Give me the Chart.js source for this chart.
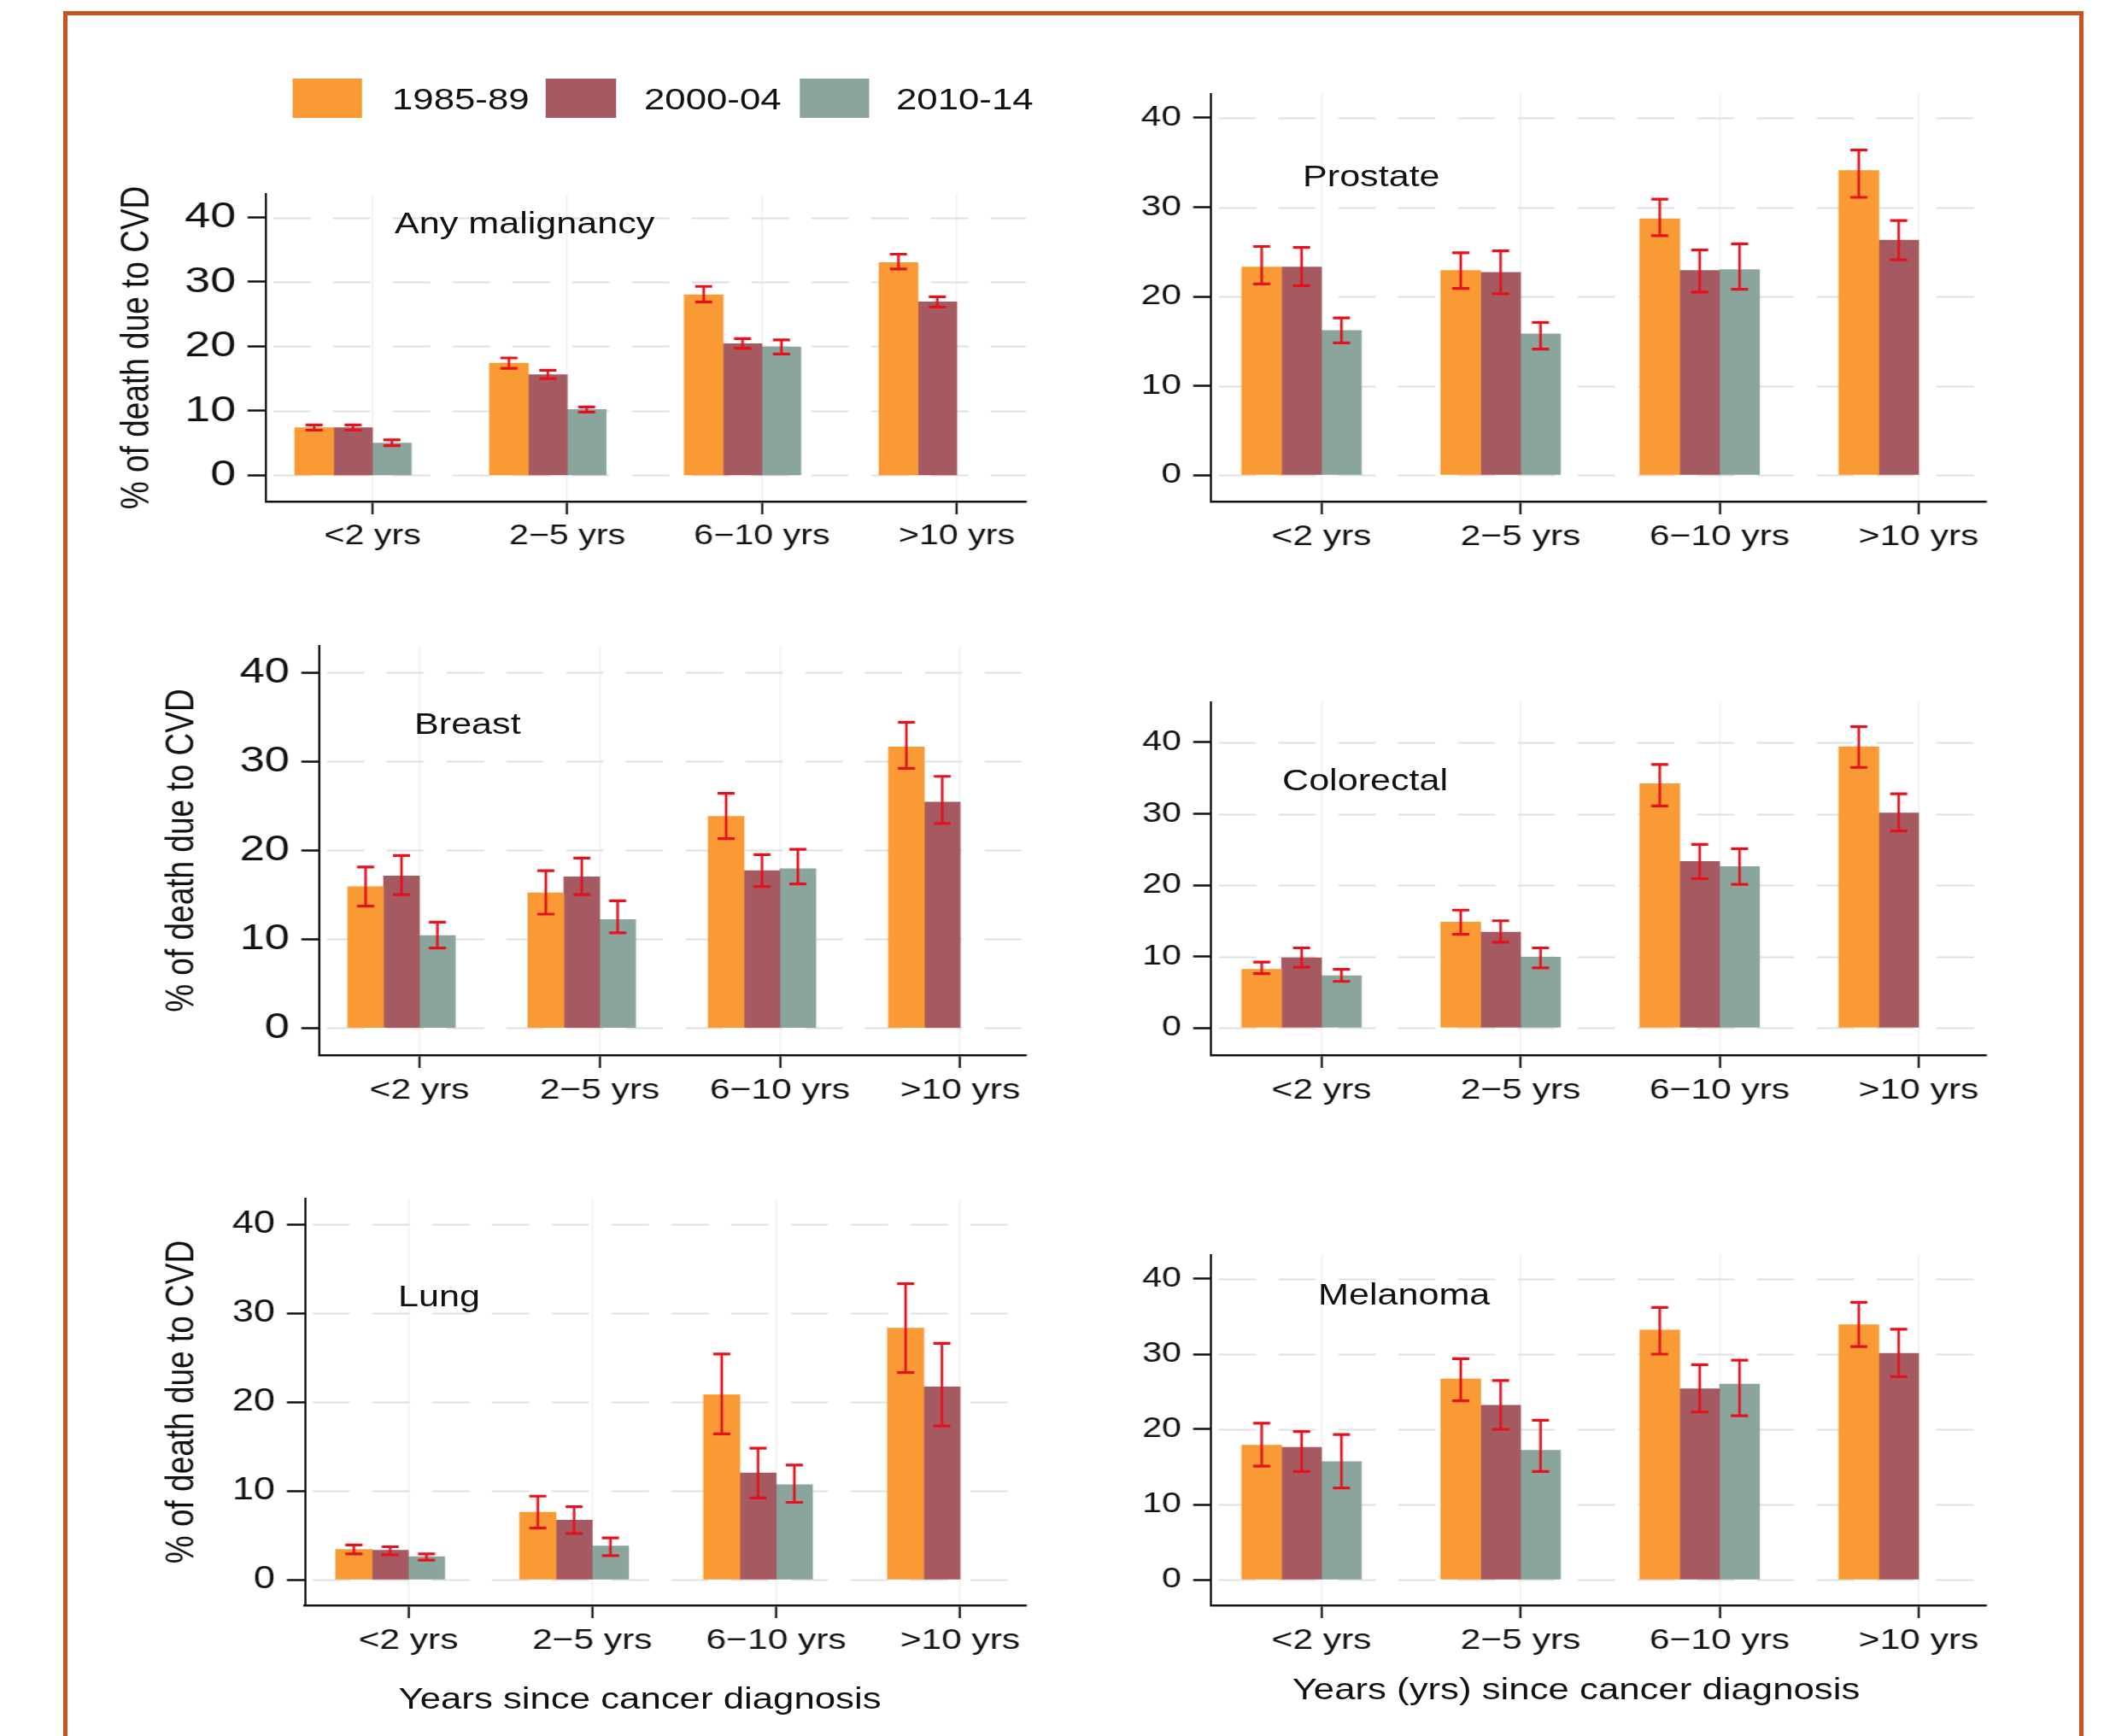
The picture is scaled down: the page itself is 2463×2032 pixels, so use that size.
<!DOCTYPE html>
<html lang="en">
<head>
<meta charset="UTF-8">
<title>% of death due to CVD by years since cancer diagnosis</title>
<script src="https://cdn.jsdelivr.net/npm/chart.js"></script>
<style>
  html, body { margin: 0; padding: 0; background: #fff; overflow: hidden; }
  body { width: 2463px; height: 2032px; position: relative; font-family: "Liberation Sans", Arial, sans-serif; color: #111; }
  #frame { position: absolute; left: 74px; top: 13px; width: 2365px; height: 2100px; border: 5px solid #c8531f; box-sizing: border-box; }
  /* the source figure is stretched horizontally, so the whole stage is too */
  #stage { position: absolute; left: 0; top: 0; width: 1971px; height: 2032px; transform: scaleX(1.25); transform-origin: 0 0; }
  #stage canvas { position: absolute; }
  .txt { position: absolute; white-space: nowrap; line-height: 1; color: #111; }
  .swatch { position: absolute; width: 65.6px; height: 46px; }
</style>
</head>
<body>
<div id="frame"></div>
<div id="stage"></div>

<script>
const STRETCH = 1.25;
const FONT = '"Liberation Sans", Arial, sans-serif';

const categories = ['<2 yrs', '2\u22125 yrs', '6\u221210 yrs', '>10 yrs'];
const periods = ['1985-89', '2000-04', '2010-14'];
const periodColors = ['#fa9a35', '#a55a61', '#8aa59c'];
const errorColor = '#e3121c';
const yTicks = [0, 10, 20, 30, 40];

// rows follow periods, columns follow categories
const anyPct = [[7.4, 17.4, 28.0, 33.0], [7.4, 15.6, 20.4, 26.9], [5.0, 10.2, 19.9, null]];
const anyLo  = [[7.0, 16.6, 26.9, 32.0], [7.0, 15.0, 19.7, 26.1], [4.6, 9.8, 18.8, null]];
const anyHi  = [[7.8, 18.2, 29.3, 34.3], [7.8, 16.3, 21.2, 27.7], [5.5, 10.6, 21.0, null]];

const prostatePct = [[23.3, 22.9, 28.7, 34.1], [23.3, 22.7, 22.9, 26.3], [16.2, 15.8, 23.0, null]];
const prostateLo  = [[21.4, 20.9, 26.8, 31.1], [21.2, 20.3, 20.5, 24.1], [14.8, 14.1, 20.8, null]];
const prostateHi  = [[25.6, 24.9, 30.9, 36.4], [25.5, 25.1, 25.2, 28.5], [17.6, 17.1, 25.9, null]];

const breastPct = [[15.9, 15.2, 23.8, 31.6], [17.1, 17.0, 17.7, 25.4], [10.4, 12.2, 17.9, null]];
const breastLo  = [[13.7, 12.8, 21.3, 29.2], [15.0, 15.0, 15.9, 23.0], [9.0, 10.7, 16.2, null]];
const breastHi  = [[18.1, 17.7, 26.4, 34.4], [19.4, 19.1, 19.5, 28.3], [11.9, 14.3, 20.1, null]];

const colorectalPct = [[8.2, 14.8, 34.2, 39.4], [9.8, 13.4, 23.3, 30.1], [7.3, 9.9, 22.6, null]];
const colorectalLo  = [[7.6, 13.1, 31.1, 36.5], [8.5, 12.0, 20.9, 27.6], [6.5, 8.4, 20.1, null]];
const colorectalHi  = [[9.2, 16.5, 36.9, 42.2], [11.2, 15.0, 25.7, 32.8], [8.2, 11.2, 25.1, null]];

const lungPct = [[3.4, 7.6, 20.8, 28.3], [3.3, 6.7, 12.0, 21.7], [2.6, 3.8, 10.7, null]];
const lungLo  = [[2.9, 5.8, 16.4, 23.3], [2.8, 5.2, 9.2, 17.3], [2.2, 2.7, 8.7, null]];
const lungHi  = [[3.9, 9.4, 25.4, 33.3], [3.7, 8.2, 14.8, 26.6], [2.9, 4.7, 12.9, null]];

const melanomaPct = [[17.9, 26.7, 33.2, 33.9], [17.6, 23.2, 25.4, 30.1], [15.7, 17.2, 26.0, null]];
const melanomaLo  = [[15.1, 23.8, 30.0, 31.0], [14.4, 20.0, 22.3, 27.0], [12.2, 14.4, 21.8, null]];
const melanomaHi  = [[20.8, 29.4, 36.2, 36.9], [19.7, 26.5, 28.6, 33.3], [19.3, 21.2, 29.2, null]];

// layout in picture pixels (before the horizontal stretch is undone)
const panels = [
  { name: 'Any malignancy', pct: anyPct, lo: anyLo, hi: anyHi, yTitle: true,
    canvas: [100, 190, 1230, 680], area: [311, 223, 1201, 587], y0: 556, y40: 251,
    firstCat: 436, catStep: 228, bar: 45.5, yFont: 43, xFont: 33, titlePad: 26.6,
    label: [462, 260.5] },
  { name: 'Prostate', pct: prostatePct, lo: prostateLo, hi: prostateHi, yTitle: false,
    canvas: [1300, 60, 2360, 680], area: [1418, 110, 2325, 587], y0: 556, y40: 138,
    firstCat: 1547, catStep: 233, bar: 46.7, yFont: 34, xFont: 34,
    label: [1525, 206] },
  { name: 'Breast', pct: breastPct, lo: breastLo, hi: breastHi, yTitle: true,
    canvas: [100, 720, 1230, 1330], area: [374, 754, 1201, 1235], y0: 1203, y40: 785,
    firstCat: 491, catStep: 211, bar: 42, yFont: 42, xFont: 34, titlePad: 68.2,
    label: [485, 847] },
  { name: 'Colorectal', pct: colorectalPct, lo: colorectalLo, hi: colorectalHi, yTitle: false,
    canvas: [1300, 780, 2360, 1330], area: [1418, 822, 2325, 1235], y0: 1203, y40: 869,
    firstCat: 1547, catStep: 233, bar: 46.7, yFont: 33, xFont: 34,
    label: [1501, 913] },
  { name: 'Lung', pct: lungPct, lo: lungLo, hi: lungHi, yTitle: true,
    canvas: [100, 1370, 1230, 1960], area: [357, 1403, 1201, 1879], y0: 1849, y40: 1433,
    firstCat: 478, catStep: 215.3, bar: 42.5, yFont: 36, xFont: 34, titlePad: 68.2,
    label: [466, 1517] },
  { name: 'Melanoma', pct: melanomaPct, lo: melanomaLo, hi: melanomaHi, yTitle: false,
    canvas: [1300, 1420, 2360, 1960], area: [1418, 1469, 2325, 1879], y0: 1849, y40: 1497,
    firstCat: 1547, catStep: 233, bar: 46.7, yFont: 33, xFont: 34,
    label: [1543, 1515] }
];

const stage = document.getElementById('stage');

function addText(text, x, capCenterY, size, center) {
  const d = document.createElement('div');
  d.className = 'txt';
  d.textContent = text;
  d.style.fontSize = size + 'px';
  d.style.top = (capCenterY - 0.4885 * size) + 'px';
  if (center) {
    d.style.left = (x / STRETCH - 600) + 'px';
    d.style.width = '1200px';
    d.style.textAlign = 'center';
  } else {
    d.style.left = (x / STRETCH) + 'px';
  }
  stage.appendChild(d);
}

// dashed horizontal grid at the y ticks, drawn under the bars
const dashedGrid = {
  id: 'dashedGrid',
  beforeDatasetsDraw(chart) {
    const { ctx, chartArea } = chart;
    const y = chart.scales.y;
    ctx.save();
    ctx.strokeStyle = '#e0e0e0';
    ctx.lineWidth = 2.2;
    ctx.setLineDash([35, 21]);
    y.ticks.forEach(t => {
      const py = Math.round(y.getPixelForValue(t.value)) + 0.5;
      ctx.beginPath();
      ctx.moveTo(chartArea.left + 7, py);
      ctx.lineTo(chartArea.right, py);
      ctx.stroke();
    });
    ctx.restore();
  }
};

// error bars drawn over the bars, positioned by the bars and the y scale
const errorBars = {
  id: 'errorBars',
  afterDatasetsDraw(chart, args, opts) {
    const ctx = chart.ctx;
    const y = chart.scales.y;
    const cap = 8;
    ctx.save();
    ctx.strokeStyle = errorColor;
    opts.lo.forEach((row, s) => {
      const meta = chart.getDatasetMeta(s);
      row.forEach((l, i) => {
        const h = opts.hi[s][i];
        if (l == null || h == null) return;
        const x = meta.data[i].x;
        const yl = y.getPixelForValue(l);
        const yh = y.getPixelForValue(h);
        ctx.lineWidth = 2.4;
        ctx.beginPath();
        ctx.moveTo(x, yl);
        ctx.lineTo(x, yh);
        ctx.stroke();
        ctx.lineWidth = 3.2;
        ctx.beginPath();
        ctx.moveTo(x - cap, yl); ctx.lineTo(x + cap, yl);
        ctx.moveTo(x - cap, yh); ctx.lineTo(x + cap, yh);
        ctx.stroke();
      });
    });
    ctx.restore();
  }
};

function makePanel(p) {
  const [cl, ct, cr, cb] = p.canvas;
  const [al, at, ar, ab] = p.area;
  const canvas = document.createElement('canvas');
  const w = Math.round((cr - cl) / STRETCH);
  const h = cb - ct;
  canvas.width = w;
  canvas.height = h;
  canvas.style.left = (cl / STRETCH) + 'px';
  canvas.style.top = ct + 'px';
  canvas.style.width = w + 'px';
  canvas.style.height = h + 'px';
  stage.appendChild(canvas);

  const axisW = (al - cl) / STRETCH;
  const padRight = w - (ar - cl) / STRETCH;
  const padTop = at - ct;
  const xH = cb - ab;
  const xMin = 1 + (al - p.firstCat) / p.catStep;
  const xMax = 1 + (ar - p.firstCat) / p.catStep;
  const perUnit = (p.y0 - p.y40) / 40;
  const yMin = -(ab - p.y0) / perUnit;
  const yMax = 40 + (p.y40 - at) / perUnit;
  const thick = p.bar / STRETCH;

  const datasets = periods.map((name, s) => ({
    label: name,
    data: p.pct[s].map((v, i) => ({ x: i + 1, y: v })),
    backgroundColor: periodColors[s],
    borderWidth: 0,
    barThickness: thick
  }));
  // empty fourth slot: Stata puts the category tick between 2nd and 3rd bar
  datasets.push({
    label: '',
    data: categories.map((c, i) => ({ x: i + 1, y: null })),
    backgroundColor: 'rgba(0,0,0,0)',
    borderWidth: 0,
    barThickness: thick
  });

  new Chart(canvas, {
    type: 'bar',
    data: { datasets },
    plugins: [dashedGrid, errorBars],
    options: {
      responsive: false,
      animation: false,
      events: [],
      layout: { padding: { left: 0, top: padTop, right: padRight, bottom: 0 } },
      plugins: {
        legend: { display: false },
        tooltip: { enabled: false },
        errorBars: { lo: p.lo, hi: p.hi }
      },
      scales: {
        x: {
          type: 'linear',
          min: xMin,
          max: xMax,
          offset: false,
          afterBuildTicks: (sc) => { sc.ticks = categories.map((c, i) => ({ value: i + 1 })); },
          afterFit: (sc) => { sc.height = xH; },
          ticks: {
            callback: (v, i) => categories[i],
            color: '#111',
            font: { family: FONT, size: p.xFont },
            padding: 6,
            autoSkip: false,
            maxRotation: 0,
            minRotation: 0
          },
          grid: { offset: false, color: '#f1f1f1', lineWidth: 1.6, tickLength: 15, tickColor: '#111', tickWidth: 2 },
          border: { color: '#111', width: 2.5 }
        },
        y: {
          min: yMin,
          max: yMax,
          afterBuildTicks: (sc) => { sc.ticks = yTicks.map(v => ({ value: v })); },
          afterFit: (sc) => { sc.width = axisW; },
          ticks: { color: '#111', font: { family: FONT, size: p.yFont }, padding: 11 },
          grid: { drawOnChartArea: false, tickLength: 17, tickColor: '#111', tickWidth: 2.5 },
          border: { color: '#111', width: 2 },
          title: {
            display: p.yTitle,
            text: '% of death due to CVD',
            color: '#111',
            font: { family: FONT, size: 37 },
            padding: { top: p.titlePad || 0, bottom: 0 }
          }
        }
      }
    }
  });

  addText(p.name, p.label[0], p.label[1], 34.5, false);
}

Chart.defaults.font.family = FONT;
panels.forEach(makePanel);

// legend
const legendBoxes = [342, 639, 936];
const legendTexts = [459, 754, 1049];
periods.forEach((name, s) => {
  const sw = document.createElement('div');
  sw.className = 'swatch';
  sw.style.left = (legendBoxes[s] / STRETCH) + 'px';
  sw.style.top = '92px';
  sw.style.background = periodColors[s];
  stage.appendChild(sw);
  addText(name, legendTexts[s], 115, 35, false);
});

// x-axis titles
addText('Years since cancer diagnosis', 749, 1987, 35, true);
addText('Years (yrs) since cancer diagnosis', 1845, 1976, 35, true);
</script>
</body>
</html>
